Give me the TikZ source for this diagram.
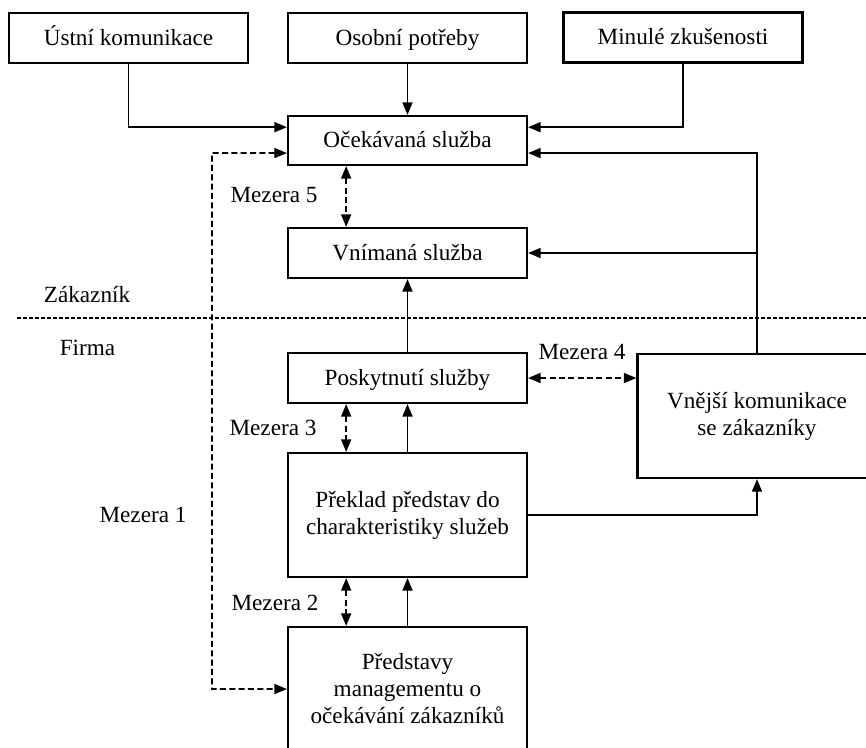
\documentclass[tikz,border=0pt]{standalone}
\usepackage{fontspec}
\setmainfont{Liberation Serif}
\usetikzlibrary{arrows.meta}
\begin{document}
\begin{tikzpicture}[
  x=0.75pt, y=-0.75pt,
  every node/.style={font=\fontsize{17.4pt}{20.25pt}\selectfont},
  box/.style={draw, line width=1.6pt, inner sep=0pt, align=center,
    minimum width=179.25pt, minimum height=37.5pt},
  onebox/.style={box, text height=12pt, text depth=1.5pt},
  bigbox/.style={box, minimum height=93pt},
  lbl/.style={inner sep=0pt},
  tip/.tip={Triangle[length=9.5pt,width=7.5pt]},
  conn/.style={line width=1.4pt, -tip},
  gap/.style={line width=1.4pt, dash pattern=on 4.5pt off 2.5pt, tip-tip},
  divider/.style={line width=1.1pt, dash pattern=on 3pt off 1.5pt}
]
\useasboundingbox (0,0) rectangle (866,747);
\clip (0,0) rectangle (866,747);

% customer side
\node[onebox] (ustni)  at (128.5,38)  {Ústní komunikace};
\node[onebox] (osobni) at (407.5,38)  {Osobní potřeby};
\node[onebox] (minule) at (683,37.5)  {Minulé zkušenosti};
\node[onebox, minimum height=36.75pt] (ocek) at (407.5,140.5) {Očekávaná služba};
\node[onebox] (vnim)   at (407.5,253) {Vnímaná služba};

% company side
\node[onebox] (posk)    at (407.5,378) {Poskytnutí služby};
\node[bigbox] (vnejsi)  at (757,416)   {Vnější komunikace\\se zákazníky};
\node[bigbox] (preklad) at (407.5,515) {Překlad představ do\\charakteristiky služeb};
\node[bigbox] (predst)  at (407.5,689) {Představy\\managementu o\\očekávání zákazníků};

% side labels
\node[lbl] (zak)   at (87,295)  {Zákazník};
\node[lbl] (firma) at (87.5,348) {Firma};
\node[lbl] (m5) at (274,195) {Mezera 5};
\node[lbl] (m4) at (582,352) {Mezera 4};
\node[lbl] (m3) at (273,428) {Mezera 3};
\node[lbl] (m2) at (275,603) {Mezera 2};
\node[lbl] (m1) at (143,515) {Mezera 1};

% boundary between customer and company
\coordinate (divL) at (17,318);
\coordinate (divR) at (866,318);
\draw[divider] (divL) -- (divR);

% influences on the expected service
\draw[conn] (ustni.south) |- ([yshift=10pt]ocek.west);
\draw[conn] (osobni.south) -- (ocek.north);
\draw[conn] (minule.south) |- ([yshift=10pt]ocek.east);
\draw[conn] (vnejsi.north) |- ([yshift=-9.4pt]ocek.east);
\draw[conn] (vnejsi.north |- vnim.east) -- (vnim.east);

% delivery chain
\draw[conn] (posk.north) -- (vnim.south);
\draw[conn] (preklad.north) -- (posk.south);
\draw[conn] (predst.north) -- (preklad.south);
\draw[conn] (preklad.east) -| (vnejsi.south);

% gaps
\draw[gap] ([xshift=-46pt]ocek.south) -- ([xshift=-46pt]vnim.north);
\draw[gap] ([xshift=-46pt]posk.south) -- ([xshift=-46pt]preklad.north);
\draw[gap] ([xshift=-46pt]preklad.south) -- ([xshift=-46pt]predst.north);
\draw[gap] (posk.east) -- (posk.east -| vnejsi.west);
\coordinate (m1top) at (212,153);
\draw[gap] ([yshift=-9.4pt]ocek.west) -- (m1top) |- (predst.west);
\end{tikzpicture}
\end{document}
